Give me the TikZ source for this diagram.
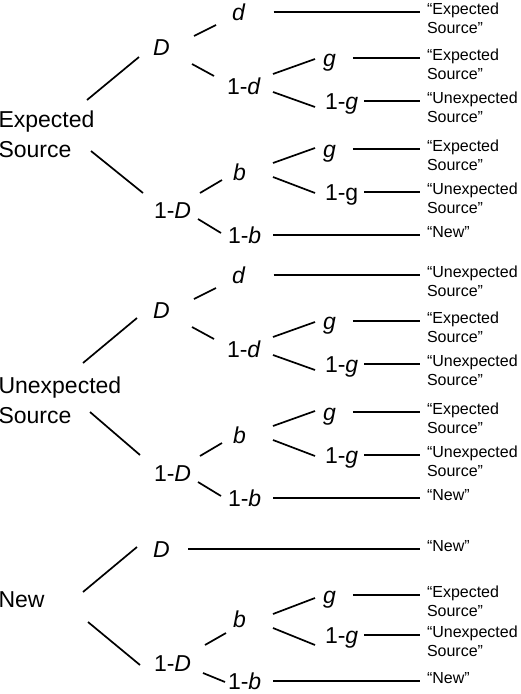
\documentclass[tikz,border=0pt]{standalone}
\usepackage{fontspec}
\setmainfont{Liberation Sans}
\usetikzlibrary{calc}
\tikzset{
  mid/.style={font=\fontsize{23}{28}\selectfont, inner sep=0pt, outer sep=0pt, anchor=base west, text height=16.5pt, text depth=0pt},
  root/.style={font=\fontsize{23}{29.5}\selectfont, inner sep=0pt, outer sep=0pt, anchor=north west, align=left},
  leaf/.style={font=\fontsize{16}{19}\selectfont, inner sep=0pt, outer sep=0pt, anchor=north west, align=left},
  edge/.style={line width=1.7pt},
  hedge/.style={line width=1.7pt, shorten >=7pt}
}
\newcommand\conn[4]{\draw[edge] ($(#1)+#2$) -- ($(#3)+#4$);}
\newcommand\hconn[3]{\draw[hedge, shorten <=#3] (#1.east) -- (#1.east -| #2.west);}
\begin{document}
\begin{tikzpicture}[x=1pt,y=-1pt]
\useasboundingbox (0,0) rectangle (520,694);
% ---------- Tree 1 ----------
\node[root] (R1) at (-1.5,111) {Expected\\Source};
\node[mid] (D1) at (153,55) {\textit{D}};
\node[mid] (d1) at (232,20) {\textit{d}};
\node[mid] (md1) at (227,94) {1-\textit{d}};
\node[mid] (g1a) at (323,66) {\textit{g}};
\node[mid] (mg1a) at (325,109) {1-\textit{g}};
\node[mid] (mD1) at (154,218) {1-\textit{D}};
\node[mid] (b1) at (233,180) {\textit{b}};
\node[mid] (g1b) at (323,157) {\textit{g}};
\node[mid] (mg1b) at (325,200) {1-g};
\node[mid] (mb1) at (228,243) {1-\textit{b}};
\node[leaf] (L1) at (427,2.75) {“Expected\\Source”};
\node[leaf] (L2) at (427,48.75) {“Expected\\Source”};
\node[leaf] (L3) at (427,91.75) {“Unexpected\\Source”};
\node[leaf] (L4) at (427,139.75) {“Expected\\Source”};
\node[leaf] (L5) at (427,182.75) {“Unexpected\\Source”};
\node[leaf] (L6) at (427,226.25) {“New”};
\conn{R1.north west}{(88.5,-11)}{D1.base west}{(-14,2)}
\conn{R1.north west}{(92.5,40)}{mD1.base west}{(-11,-25)}
\conn{D1.base west}{(41,-19)}{d1.base west}{(-16,5)}
\conn{D1.base west}{(39,9)}{md1.base west}{(-13,-18)}
\conn{md1.base west}{(46,-20)}{g1a.base west}{(-8,-7)}
\conn{md1.base west}{(46,-2)}{mg1a.base west}{(-10,-2)}
\conn{mD1.base west}{(46,-25)}{b1.base west}{(-11,0)}
\conn{mD1.base west}{(44,1)}{mb1.base west}{(-7,-10)}
\conn{b1.base west}{(40,-17)}{g1b.base west}{(-8,-9)}
\conn{b1.base west}{(40,-3)}{mg1b.base west}{(-10,-7)}
\hconn{d1}{L1}{28.2pt}
\hconn{g1a}{L2}{17.2pt}
\hconn{mg1a}{L3}{5.8pt}
\hconn{g1b}{L4}{17.2pt}
\hconn{mg1b}{L5}{5.8pt}
\hconn{mb1}{L6}{11.8pt}
% ---------- Tree 2 ----------
\node[root] (R2) at (-1.5,377) {Unexpected\\Source};
\node[mid] (D2) at (153,318) {\textit{D}};
\node[mid] (d2) at (232,283) {\textit{d}};
\node[mid] (md2) at (227,357) {1-\textit{d}};
\node[mid] (g2a) at (323,329) {\textit{g}};
\node[mid] (mg2a) at (325,372) {1-\textit{g}};
\node[mid] (mD2) at (154,481) {1-\textit{D}};
\node[mid] (b2) at (233,443) {\textit{b}};
\node[mid] (g2b) at (323,420) {\textit{g}};
\node[mid] (mg2b) at (325,463) {1-\textit{g}};
\node[mid] (mb2) at (228,506) {1-\textit{b}};
\node[leaf] (L7) at (427,265.75) {“Unexpected\\Source”};
\node[leaf] (L8) at (427,311.75) {“Expected\\Source”};
\node[leaf] (L9) at (427,354.75) {“Unexpected\\Source”};
\node[leaf] (L10) at (427,402.75) {“Expected\\Source”};
\node[leaf] (L11) at (427,445.75) {“Unexpected\\Source”};
\node[leaf] (L12) at (427,489.25) {“New”};
\conn{R2.north west}{(84.5,-14)}{D2.base west}{(-16,0)}
\conn{R2.north west}{(91.5,35)}{mD2.base west}{(-14,-26)}
\conn{D2.base west}{(41,-19)}{d2.base west}{(-16,5)}
\conn{D2.base west}{(39,9)}{md2.base west}{(-13,-18)}
\conn{md2.base west}{(46,-20)}{g2a.base west}{(-8,-7)}
\conn{md2.base west}{(46,-2)}{mg2a.base west}{(-10,-2)}
\conn{mD2.base west}{(46,-25)}{b2.base west}{(-11,0)}
\conn{mD2.base west}{(44,1)}{mb2.base west}{(-7,-10)}
\conn{b2.base west}{(40,-17)}{g2b.base west}{(-8,-9)}
\conn{b2.base west}{(40,-3)}{mg2b.base west}{(-10,-7)}
\hconn{d2}{L7}{28.2pt}
\hconn{g2a}{L8}{17.2pt}
\hconn{mg2a}{L9}{5.8pt}
\hconn{g2b}{L10}{17.2pt}
\hconn{mg2b}{L11}{5.8pt}
\hconn{mb2}{L12}{11.8pt}
% ---------- Tree 3 ----------
\node[root] (R3) at (-1.5,592) {New};
\node[mid] (D3) at (153,557) {\textit{D}};
\node[mid] (mD3) at (154,671) {1-\textit{D}};
\node[mid] (b3) at (233,627) {\textit{b}};
\node[mid] (g3) at (323,603) {\textit{g}};
\node[mid] (mg3) at (325,643) {1-\textit{g}};
\node[mid] (mb3) at (228,689) {1-\textit{b}};
\node[leaf] (L13) at (427,540.25) {“New”};
\node[leaf] (L14) at (427,585.75) {“Expected\\Source”};
\node[leaf] (L15) at (427,625.75) {“Unexpected\\Source”};
\node[leaf] (L16) at (427,672.75) {“New”};
\conn{R3.north west}{(84.5,0)}{D3.base west}{(-16,-10)}
\conn{R3.north west}{(89.5,30)}{mD3.base west}{(-14,-6)}
\conn{mD3.base west}{(51,-26)}{b3.base west}{(-7,6)}
\conn{mD3.base west}{(49,2)}{mb3.base west}{(-3,-7)}
\conn{b3.base west}{(40,-13)}{g3.base west}{(-8,-5)}
\conn{b3.base west}{(40,1)}{mg3.base west}{(-10,2)}
\hconn{D3}{L13}{18.4pt}
\hconn{g3}{L14}{17.2pt}
\hconn{mg3}{L15}{5.8pt}
\hconn{mb3}{L16}{11.8pt}
\end{tikzpicture}
\end{document}
